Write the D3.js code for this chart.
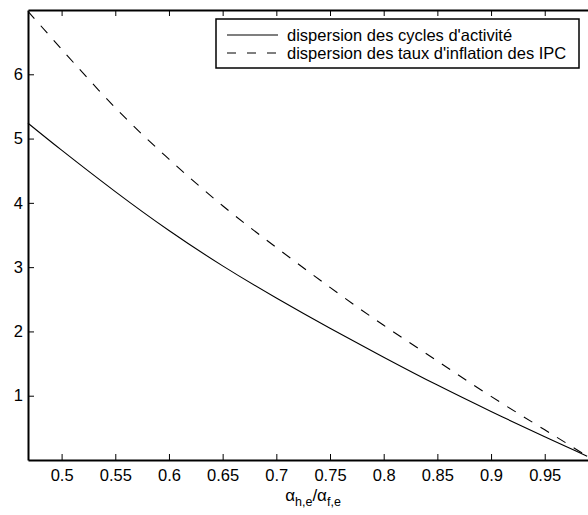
<!DOCTYPE html>
<html>
<head>
<meta charset="utf-8">
<script src="https://cdn.jsdelivr.net/npm/d3@7"></script>
<style>
  html, body { margin: 0; padding: 0; background: #fff; }
  svg { display: block; font-family: "Liberation Sans", Arial, sans-serif; }
</style>
</head>
<body>
<svg id="chart" width="588" height="515"></svg>
<script>
// ---- data ----
const xValues = [0.4687, 0.5, 0.55, 0.6, 0.65, 0.7, 0.75, 0.8, 0.85, 0.9, 0.95, 0.9895];
const cyclesDispersion = [5.24, 4.82, 4.175, 3.57, 3.02, 2.52, 2.05, 1.60, 1.165, 0.755, 0.36, 0.06];
const inflationDispersion = [6.98, 6.39, 5.48, 4.68, 3.955, 3.305, 2.685, 2.095, 1.54, 0.99, 0.47, 0.06];
const xTicks = [0.5, 0.55, 0.6, 0.65, 0.7, 0.75, 0.8, 0.85, 0.9, 0.95];
const yTicks = [1, 2, 3, 4, 5, 6];
const seriesNames = ["dispersion des cycles d'activité", "dispersion des taux d'inflation des IPC"];

const svg = d3.select("#chart");
const mLeft = 28, mRight = 588, mTop = 10, mBottom = 460;

const x = d3.scaleLinear().domain([0.4687, 0.9903]).range([mLeft, mRight]);
const y = d3.scaleLinear().domain([0, 7]).range([mBottom, mTop]);

// series lines
const line = d3.line().x(d => x(d[0])).y(d => y(d[1])).curve(d3.curveNatural);
const s1 = xValues.map((v, i) => [v, cyclesDispersion[i]]);
const s2 = xValues.map((v, i) => [v, inflationDispersion[i]]);

svg.append("path").attr("d", line(s1)).attr("fill", "none")
  .attr("stroke", "#000").attr("stroke-width", 1.1);
svg.append("path").attr("d", line(s2)).attr("fill", "none")
  .attr("stroke", "#000").attr("stroke-width", 1.1).attr("stroke-dasharray", "10,9.5");

// axes
const fontSize = 16.5;
const xAxis = d3.axisBottom(x).tickValues(xTicks).tickSizeInner(-6).tickSizeOuter(0)
  .tickPadding(9).tickFormat(d3.format("~g"));
const gx = svg.append("g").attr("transform", `translate(0,${mBottom})`).call(xAxis);
const xTopAxis = d3.axisTop(x).tickValues(xTicks).tickSizeInner(-6).tickSizeOuter(0).tickFormat("");
const gxt = svg.append("g").attr("transform", `translate(0,${mTop})`).call(xTopAxis);
const yAxis = d3.axisLeft(y).tickValues(yTicks).tickSizeInner(-6).tickSizeOuter(0)
  .tickPadding(5).tickFormat(d3.format("d"));
const gy = svg.append("g").attr("transform", `translate(${mLeft},0)`).call(yAxis);

[gx, gxt, gy].forEach(g => {
  g.select(".domain").attr("stroke", "#000").attr("stroke-width", 2);
  g.selectAll(".tick line").attr("stroke", "#000").attr("stroke-width", 1);
  g.selectAll(".tick text").attr("fill", "#000").style("font-size", fontSize + "px")
    .style("font-family", '"Liberation Sans", Arial, sans-serif');
});

// x-axis label: alpha_{h,e}/alpha_{f,e}
const xl = svg.append("text").attr("x", 313).attr("y", 501).attr("text-anchor", "middle")
  .style("font-size", "17px").attr("fill", "#000");
xl.append("tspan").text("α");
xl.append("tspan").attr("dy", 5).style("font-size", "12.5px").text("h,e");
xl.append("tspan").attr("dy", -5).text("/α");
xl.append("tspan").attr("dy", 5).style("font-size", "12.5px").text("f,e");

// legend
const lg = svg.append("g");
lg.append("rect").attr("x", 216).attr("y", 19).attr("width", 363).attr("height", 49)
  .attr("fill", "#fff").attr("stroke", "#000").attr("stroke-width", 1.5);
const rows = [{name: seriesNames[0], dash: null, yy: 35}, {name: seriesNames[1], dash: "9,11", yy: 53}];
rows.forEach(r => {
  lg.append("line").attr("x1", 227).attr("x2", 278).attr("y1", r.yy).attr("y2", r.yy)
    .attr("stroke", "#000").attr("stroke-width", 1.1).attr("stroke-dasharray", r.dash);
  lg.append("text").attr("x", 287).attr("y", r.yy + 5.5).style("font-size", "16.5px")
    .attr("fill", "#000").text(r.name);
});
</script>
</body>
</html>
